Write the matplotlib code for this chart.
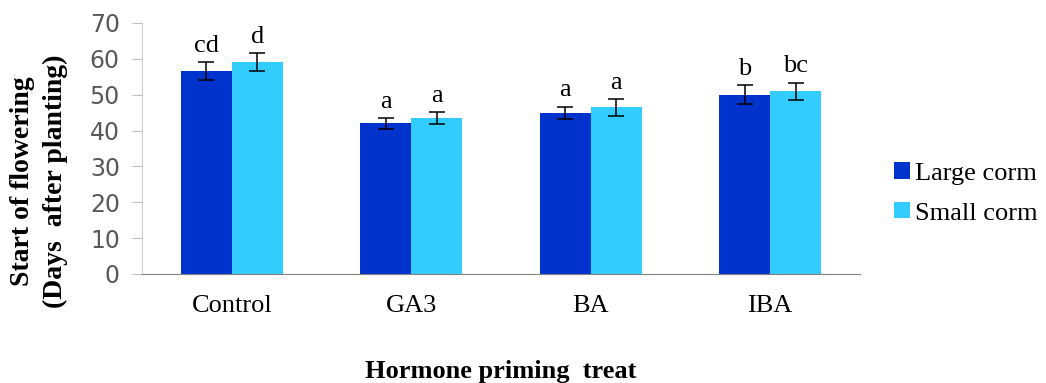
import matplotlib
matplotlib.use("Agg")
import matplotlib.pyplot as plt
import numpy as np

categories = ["Control", "GA3", "BA", "IBA"]
large = [56.5, 42.0, 45.0, 50.0]
small = [59.0, 43.5, 46.5, 51.0]
large_err = [2.5, 1.6, 1.7, 2.7]
small_err = [2.5, 1.6, 2.4, 2.4]
large_letters = ["cd", "a", "a", "b"]
small_letters = ["d", "a", "a", "bc"]

dark = "#0033cc"
light = "#33ccff"
serif = "Liberation Serif"

fig = plt.figure(figsize=(10.46, 3.83), dpi=100)
ax = fig.add_axes([0.1358, 0.2846, 0.822 - 0.1358, 0.94 - 0.2846])

x = np.arange(len(categories))
w = 0.285
ekw = dict(ecolor="black", elinewidth=1.1, capthick=1.1)
ax.bar(x - w / 2, large, w, color=dark, label="Large corm",
       yerr=large_err, capsize=5.5, error_kw=ekw)
ax.bar(x + w / 2, small, w, color=light, label="Small corm",
       yerr=small_err, capsize=5.5, error_kw=ekw)

# significance letters
for xi, v, e, t in zip(x - w / 2, large, large_err, large_letters):
    ax.text(xi, v + e + 2.8, t, ha="center", va="baseline", fontsize=19, family=serif)
for xi, v, e, t in zip(x + w / 2, small, small_err, small_letters):
    ax.text(xi, v + e + 2.8, t, ha="center", va="baseline", fontsize=19, family=serif)

ax.set_xlim(-0.5, len(categories) - 0.5)
ax.set_ylim(0, 70)
ax.set_yticks(range(0, 71, 10))
ax.set_xticks(x)
ax.set_xticklabels(categories, fontsize=19, family=serif)
ax.tick_params(axis="x", length=0, pad=15)
ax.tick_params(axis="y", length=7, color="#bfbfbf", labelsize=17, labelcolor="#595959", pad=9)

for s in ["top", "right"]:
    ax.spines[s].set_visible(False)
ax.spines["left"].set_color("#d0d0d0")
ax.spines["bottom"].set_color("#808080")

fig.text(0.037, 0.527, "Start of flowering\n(Days  after planting)", rotation=90,
         ha="center", va="center", fontsize=20, fontweight="bold", family=serif,
         linespacing=1.4, multialignment="center")
fig.text(0.479, 0.013, "Hormone priming  treat", ha="center", va="baseline",
         fontsize=19, fontweight="bold", family=serif)

fig.legend(loc="center left", bbox_to_anchor=(0.855, 0.495),
           frameon=False, prop=dict(family=serif, size=19),
           handlelength=0.58, handleheight=0.58, handletextpad=0.2,
           labelspacing=0.65, borderaxespad=0, borderpad=0)

fig.savefig("out.png", dpi=100)
